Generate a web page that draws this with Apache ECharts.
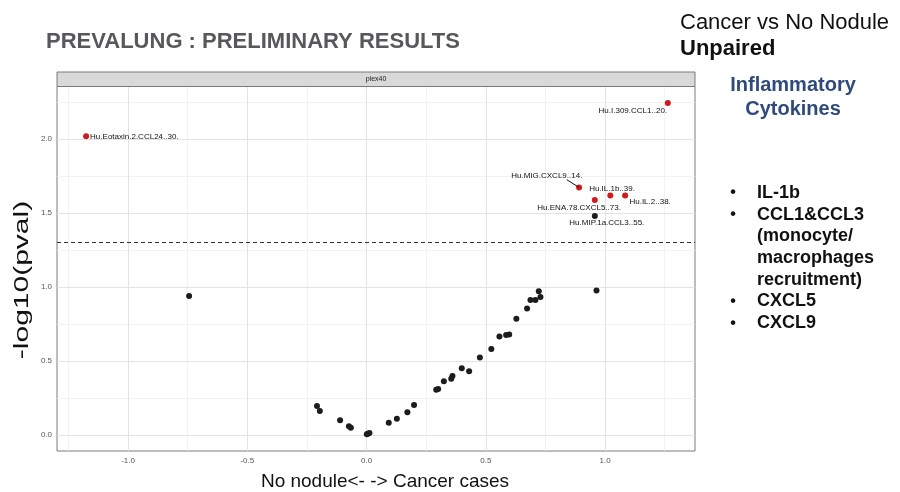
<!DOCTYPE html>
<html>
<head>
<meta charset="utf-8">
<script src="https://cdn.jsdelivr.net/npm/echarts@6/dist/echarts.min.js"></script>
<style>
  html, body { margin: 0; padding: 0; background: #ffffff; }
  #chart { width: 900px; height: 492px; }
</style>
</head>
<body>
<div id="chart"></div>
<script>
// ---- data ----
const analyteNames = [
  "Hu.Eotaxin.2.CCL24..30.", "Hu.I.309.CCL1..20.", "Hu.MIG.CXCL9..14.", "Hu.IL.1b..39.",
  "Hu.IL.2..38.", "Hu.ENA.78.CXCL5..73.", "Hu.MIP.1a.CCL3..55.",
  "", "", "", "", "", "", "", "", "", "", "", "", "", "", "", "", "", "", "", "", "", "",
  "", "", "", "", "", "", "", "", "", ""
];
const logFC = [
  -1.176, 1.263, 0.891, 1.022, 1.084, 0.957, 0.957,
  -0.744, -0.208, -0.196, -0.111, -0.074, -0.066, 0.001, 0.005, 0.012, 0.093, 0.127,
  0.171, 0.199, 0.292, 0.300, 0.324, 0.355, 0.360, 0.399, 0.430, 0.475, 0.523, 0.557,
  0.585, 0.598, 0.628, 0.673, 0.687, 0.708, 0.729, 0.722, 0.964
];
const negLog10P = [
  2.018, 2.244, 1.673, 1.619, 1.619, 1.588, 1.480,
  0.940, 0.196, 0.162, 0.099, 0.059, 0.049, 0.005, 0.009, 0.014, 0.083, 0.110,
  0.154, 0.203, 0.306, 0.311, 0.363, 0.381, 0.399, 0.451, 0.431, 0.523, 0.582, 0.665,
  0.675, 0.679, 0.785, 0.855, 0.913, 0.913, 0.932, 0.972, 0.976
];
const highlighted = [
  true, true, true, true, true, true, false,
  false, false, false, false, false, false, false, false, false, false, false,
  false, false, false, false, false, false, false, false, false, false, false, false,
  false, false, false, false, false, false, false, false, false
];
const pThreshold = 0.05;
const xTicks = [-1.0, -0.5, 0.0, 0.5, 1.0];
const yTicks = [0.0, 0.5, 1.0, 1.5, 2.0];
const xMinor = [-1.25, -0.75, -0.25, 0.25, 0.75, 1.25];
const yMinor = [0.25, 0.75, 1.25, 1.75, 2.25];
const xRange = [-1.298, 1.377];
const yRange = [-0.108, 2.355];
const panelTitle = "plex40";
const bulletItems = ["IL-1b", "CCL1&CCL3", "(monocyte/", "macrophages", "recruitment)", "CXCL5", "CXCL9"];
const bulletFlags = [true, true, false, false, false, true, true];

// ---- label placement (pixel offsets of label centre from point) ----
const labelOffsets = {
  "Hu.I.309.CCL1..20.": [-35, 7.4],
  "Hu.MIG.CXCL9..14.": [-32.3, -11.7],
  "Hu.IL.1b..39.": [1.7, -6.7],
  "Hu.IL.2..38.": [25, 6.6],
  "Hu.ENA.78.CXCL5..73.": [-15.7, 8],
  "Hu.MIP.1a.CCL3..55.": [12, 7]
};
const leaderName = "Hu.MIG.CXCL9..14.";
const leaderVector = [-12.3, -7.7]; // pixel offset of the segment's far end from the point

const FONT = "'Liberation Sans', Arial, sans-serif";
const threshold = -Math.log10(pThreshold);

const points = logFC.map((x, i) => ({
  name: analyteNames[i],
  value: [x, negLog10P[i]],
  itemStyle: { color: highlighted[i] ? '#cf1b1b' : '#1c1c1c', opacity: 1 },
  label: { show: analyteNames[i] !== '' }
}));

const gridLines = [];
xMinor.forEach(v => gridLines.push({ xAxis: v, lineStyle: { color: '#efefef', width: 0.8, type: 'solid' } }));
yMinor.forEach(v => gridLines.push({ yAxis: v, lineStyle: { color: '#efefef', width: 0.8, type: 'solid' } }));
xTicks.forEach(v => gridLines.push({ xAxis: v, lineStyle: { color: '#e3e3e3', width: 1, type: 'solid' } }));
yTicks.forEach(v => gridLines.push({ yAxis: v, lineStyle: { color: '#e3e3e3', width: 1, type: 'solid' } }));

const graphics = [
  { type: 'text', left: 46, top: 31, style: { text: 'PREVALUNG : PRELIMINARY RESULTS', font: 'bold 22px ' + FONT, fill: '#58585c' } },
  { type: 'text', left: 680, top: 12, style: { text: 'Cancer vs No Nodule', font: '22px ' + FONT, fill: '#111' } },
  { type: 'text', left: 680, top: 38, style: { text: 'Unpaired', font: 'bold 22px ' + FONT, fill: '#111' } },
  { type: 'text', x: 793, y: 85, style: { text: 'Inflammatory', font: 'bold 20px ' + FONT, fill: '#2f4b7c', align: 'center', verticalAlign: 'middle' } },
  { type: 'text', x: 793, y: 109, style: { text: 'Cytokines', font: 'bold 20px ' + FONT, fill: '#2f4b7c', align: 'center', verticalAlign: 'middle' } },
  // facet strip
  { type: 'rect', shape: { x: 57, y: 72, width: 638, height: 14.5 }, style: { fill: '#d9d9d9', stroke: '#7a7a7a', lineWidth: 1 }, z: 10 },
  { type: 'text', x: 376, y: 79.5, style: { text: panelTitle, font: '7px ' + FONT, fill: '#1a1a1a', align: 'center', verticalAlign: 'middle' }, z: 11 },
  // axis titles
  { type: 'text', x: 22, y: 280, rotation: Math.PI / 2, scaleX: 1.5, style: { text: '-log10(pval)', font: '20px ' + FONT, fill: '#111', align: 'center', verticalAlign: 'middle' } },
  { type: 'text', x: 385, y: 482, style: { text: 'No nodule<- -> Cancer cases', font: '19px ' + FONT, fill: '#111', align: 'center', verticalAlign: 'middle' } }
];
bulletItems.forEach((t, i) => {
  const y = 193 + i * 21.7;
  if (bulletFlags[i]) {
    graphics.push({ type: 'text', x: 733, y: y, style: { text: '\u2022', font: 'bold 16px ' + FONT, fill: '#111', align: 'center', verticalAlign: 'middle' } });
  }
  graphics.push({ type: 'text', x: 757, y: y, style: { text: t, font: 'bold 18px ' + FONT, fill: '#111', align: 'left', verticalAlign: 'middle' } });
});

const chart = echarts.init(document.getElementById('chart'), null, { renderer: 'canvas' });
chart.setOption({
  animation: false,
  backgroundColor: '#ffffff',
  textStyle: { fontFamily: FONT },
  grid: { left: 57, right: 205, top: 86.5, bottom: 41, show: true, borderColor: '#7a7a7a', borderWidth: 1, backgroundColor: '#ffffff', containLabel: false },
  xAxis: {
    type: 'value', min: xRange[0], max: xRange[1],
    axisLine: { show: false },
    splitLine: { show: false },
    axisTick: { show: true, customValues: xTicks, length: 3, lineStyle: { color: '#444', width: 1 } },
    axisLabel: { customValues: xTicks, formatter: v => v.toFixed(1), fontSize: 8, color: '#555', margin: 6, fontFamily: FONT }
  },
  yAxis: {
    type: 'value', min: yRange[0], max: yRange[1],
    axisLine: { show: false },
    splitLine: { show: false },
    axisTick: { show: true, customValues: yTicks, length: 3, lineStyle: { color: '#444', width: 1 } },
    axisLabel: { customValues: yTicks, formatter: v => v.toFixed(1), fontSize: 8, color: '#555', margin: 5, fontFamily: FONT }
  },
  series: [
    {
      type: 'line', data: [], z: 1, silent: true,
      markLine: { silent: true, symbol: 'none', label: { show: false }, data: gridLines, animation: false }
    },
    {
      type: 'line', data: [], z: 2, silent: true,
      markLine: { silent: true, symbol: 'none', label: { show: false },
        data: [{ yAxis: threshold, lineStyle: { color: '#333', width: 1, type: [4, 3] } }], animation: false }
    },
    {
      type: 'scatter', z: 5, symbolSize: 6,
      data: points,
      label: {
        show: true, position: 'inside', formatter: p => p.name,
        fontSize: 8, color: '#111', fontFamily: FONT
      },
      labelLayout: function (params) {
        const name = analyteNames[params.dataIndex];
        if (name === "Hu.Eotaxin.2.CCL24..30.") {
          return { dx: 4 + params.labelRect.width / 2, dy: 0 };
        }
        const o = labelOffsets[name];
        if (o) return { dx: o[0], dy: o[1] };
        return {};
      },
      emphasis: { disabled: true }
    }
  ]
});

// leader segment for the repelled label (ggrepel style), anchored on the data point
const li = analyteNames.indexOf(leaderName);
const p = chart.convertToPixel({ gridIndex: 0 }, [logFC[li], negLog10P[li]]);
graphics.push({
  type: 'line', z: 20, silent: true,
  shape: { x1: p[0] + leaderVector[0], y1: p[1] + leaderVector[1], x2: p[0], y2: p[1] },
  style: { stroke: '#111', lineWidth: 1 }
});
chart.setOption({ graphic: graphics });
</script>
</body>
</html>
